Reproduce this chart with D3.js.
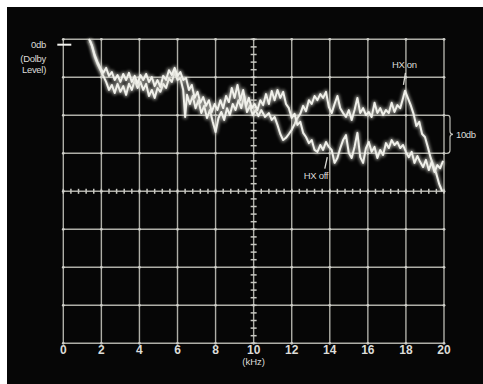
<!DOCTYPE html>
<html><head><meta charset="utf-8">
<script src="https://cdn.jsdelivr.net/npm/d3@7"></script>
<style>
html,body{margin:0;padding:0;background:#fff;}
svg{display:block;}
text{font-family:"Liberation Sans",Arial,sans-serif;}
</style></head><body>
<script>
// ---- data (kHz, dB re Dolby level) ----
const xTicks = [0,2,4,6,8,10,12,14,16,18,20];
const xTickLabels = ["0","2","4","6","8","10","12","14","16","18","20"];
const xUnitLabel = "(kHz)";
const refLabel = ["0db","(Dolby","Level)"];
const bracketLabel = "10db";
const seriesNames = ["HX on","HX off"];

const hxOnFreq = [1.4,1.5,1.65,1.8,1.95,2.1,2.25,2.4,2.55,2.7,2.85,3.0,3.15,3.3,3.45,3.6,3.75,3.9,4.05,4.2,4.35,4.5,4.65,4.8,4.95,5.1,5.25,5.4,5.55,5.7,5.85,6.0,6.15,6.3,6.4,6.5,6.65,6.8,6.95,7.1,7.25,7.4,7.55,7.7,7.85,8.0,8.15,8.3,8.45,8.6,8.75,8.9,9.05,9.2,9.35,9.5,9.65,9.8,9.95,10.1,10.25,10.4,10.6,10.8,10.95,11.1,11.25,11.4,11.55,11.7,11.85,12.0,12.15,12.3,12.45,12.6,12.75,12.9,13.05,13.2,13.35,13.5,13.65,13.8,13.95,14.1,14.25,14.4,14.55,14.7,14.85,15.0,15.15,15.3,15.45,15.6,15.75,15.9,16.05,16.2,16.35,16.5,16.65,16.8,16.95,17.1,17.25,17.4,17.55,17.7,17.85,17.95,18.1,18.25,18.4,18.55,18.7,18.85,19.0,19.15,19.3,19.45,19.6,19.75,19.9];
const hxOnDb = [1.2,-0.3,-3.2,-5.1,-6.7,-8.2,-9.8,-11.9,-10.6,-12.7,-10.3,-12.4,-10.9,-13.2,-10.3,-11.9,-9.3,-11.4,-9.8,-11.9,-10.3,-13.5,-11.9,-14.0,-11.4,-12.4,-10.3,-11.4,-8.8,-9.8,-7.2,-9.3,-8.8,-11.9,-19.0,-13.2,-15.6,-13.5,-16.7,-14.6,-18.0,-16.1,-19.3,-17.2,-20.3,-23.0,-19.3,-17.7,-19.8,-16.7,-18.5,-15.6,-17.2,-14.6,-16.7,-13.5,-17.7,-16.1,-18.5,-17.2,-18.8,-17.2,-19.0,-18.0,-19.8,-19.0,-21.1,-23.5,-25.1,-24.5,-23.5,-22.4,-20.9,-19.3,-18.2,-16.1,-17.5,-14.6,-15.6,-13.5,-14.6,-13.0,-14.0,-12.4,-16.4,-18.0,-15.6,-13.5,-16.7,-18.0,-19.0,-17.2,-19.8,-17.2,-14.0,-18.0,-16.7,-18.5,-17.7,-19.0,-15.3,-18.0,-16.7,-18.5,-17.2,-18.0,-15.3,-17.7,-15.9,-16.7,-14.0,-12.1,-14.0,-15.9,-18.2,-21.4,-20.3,-23.5,-24.3,-26.9,-29.8,-31.9,-34.0,-36.7,-38.5];

const hxOffFreq = [1.35,1.5,1.65,1.8,1.95,2.1,2.25,2.4,2.55,2.7,2.85,3.0,3.15,3.3,3.45,3.6,3.75,3.9,4.05,4.2,4.35,4.5,4.65,4.8,4.95,5.1,5.25,5.4,5.55,5.7,5.85,6.0,6.15,6.3,6.45,6.6,6.75,6.9,7.05,7.2,7.35,7.5,7.65,7.8,7.95,8.1,8.25,8.4,8.55,8.7,8.85,9.0,9.15,9.3,9.45,9.6,9.75,9.9,10.05,10.2,10.35,10.5,10.65,10.8,10.95,11.1,11.25,11.4,11.55,11.7,11.85,12.0,12.15,12.3,12.45,12.6,12.75,12.9,13.05,13.2,13.35,13.5,13.65,13.8,13.95,14.1,14.25,14.4,14.55,14.7,14.85,15.0,15.15,15.3,15.45,15.6,15.75,15.9,16.05,16.2,16.35,16.5,16.65,16.8,16.95,17.1,17.25,17.4,17.55,17.7,17.85,18.0,18.15,18.3,18.45,18.6,18.75,18.9,19.05,19.2,19.35,19.5,19.65,19.8,19.95];
const hxOffDb = [1.5,-0.1,-2.7,-4.6,-6.1,-7.4,-6.1,-8.2,-7.2,-9.3,-8.0,-9.8,-7.7,-9.3,-7.4,-9.8,-8.2,-10.3,-8.0,-9.3,-7.7,-9.8,-8.5,-10.9,-9.3,-11.1,-8.2,-9.3,-6.7,-8.0,-6.1,-8.2,-7.2,-9.3,-8.8,-11.9,-10.6,-14.0,-12.4,-15.3,-13.8,-16.1,-14.6,-17.7,-15.6,-17.2,-14.6,-16.7,-13.5,-15.1,-11.4,-14.0,-10.6,-14.6,-11.9,-16.1,-14.0,-16.7,-15.6,-17.2,-14.6,-15.9,-13.0,-15.6,-12.2,-14.6,-11.9,-14.0,-12.4,-15.6,-16.7,-19.3,-18.2,-21.1,-20.3,-23.2,-24.3,-25.9,-25.1,-27.7,-28.2,-26.4,-27.7,-25.6,-26.9,-27.7,-31.1,-29.8,-27.2,-25.1,-23.8,-28.5,-29.8,-26.9,-23.2,-29.6,-31.1,-27.2,-25.6,-28.2,-26.9,-29.8,-27.7,-29.0,-25.9,-27.2,-25.1,-26.4,-25.6,-27.2,-26.4,-28.2,-29.6,-28.2,-31.1,-29.3,-30.9,-32.2,-30.3,-33.0,-30.9,-33.5,-31.7,-32.5,-30.6];

// ---- layout ----
const W = 483, H = 384;
const dbTop = 1.42, dbSpan = 80;   // graticule: 8 divisions of 10 dB
const textColor = "#dcdcd8";
const svg = d3.select("body").append("svg").attr("width", W).attr("height", H);

svg.append("rect").attr("x",7).attr("y",7).attr("width",W-7).attr("height",H-7).attr("fill","#060606");

const x = d3.scaleLinear().domain([0,20]).range([63.3,444]);
const y = d3.scaleLinear().domain([dbTop, dbTop-dbSpan]).range([39.3,343.3]);

const defs = svg.append("defs");
const f = defs.append("filter").attr("id","glow").attr("x","-10%").attr("y","-10%").attr("width","120%").attr("height","120%");
f.append("feGaussianBlur").attr("stdDeviation",1.8);
const f2 = defs.append("filter").attr("id","soft");
f2.append("feGaussianBlur").attr("stdDeviation",0.35);

const gridColor = "#aeaea7";
const hGrid = d3.range(0,9).map(i => dbTop - 10*i);
const vGrid = xTicks;
const gGrid = svg.append("g").attr("filter","url(#soft)");
gGrid.selectAll("line.h").data(hGrid).join("line")
  .attr("x1", x(0)).attr("x2", x(20)).attr("y1", d=>y(d)).attr("y2", d=>y(d))
  .attr("stroke", gridColor).attr("stroke-width",1.4);
gGrid.selectAll("line.v").data(vGrid).join("line")
  .attr("y1", y(dbTop)).attr("y2", y(dbTop-dbSpan)).attr("x1", d=>x(d)).attr("x2", d=>x(d))
  .attr("stroke", gridColor).attr("stroke-width",1.4);

// minor ticks on centre lines
const centreDb = dbTop - 40;
const minorX = d3.range(0,20.001,0.4);
gGrid.selectAll("line.mx").data(minorX).join("line")
  .attr("x1", d=>x(d)).attr("x2", d=>x(d)).attr("y1", y(centreDb)-2.5).attr("y2", y(centreDb)+2.5)
  .attr("stroke","#c8c8c2").attr("stroke-width",1.5);
const minorY = d3.range(0,81,2).map(i => dbTop - i);
gGrid.selectAll("line.my").data(minorY).join("line")
  .attr("y1", d=>y(d)).attr("y2", d=>y(d)).attr("x1", x(10)-3).attr("x2", x(10)+3)
  .attr("stroke","#c8c8c2").attr("stroke-width",1.5);
// intersection dots
const inter = [];
hGrid.forEach(h => vGrid.forEach(v => inter.push([v,h])));
gGrid.selectAll("circle").data(inter).join("circle")
  .attr("cx", d=>x(d[0])).attr("cy", d=>y(d[1])).attr("r",1.4).attr("fill","#cfcfc9");

// 0 dB reference marker
svg.append("line").attr("x1", x(0)-6).attr("x2", x(0)+8).attr("y1", y(0)).attr("y2", y(0))
  .attr("stroke","#f4f4f0").attr("stroke-width",2);

// traces
const line = d3.line().x(d=>x(d[0])).y(d=>y(d[1]));
const onData = hxOnFreq.map((v,i)=>[v,hxOnDb[i]]);
const offData = hxOffFreq.map((v,i)=>[v,hxOffDb[i]]);
[onData, offData].forEach(data => {
  svg.append("path").datum(data).attr("d", line).attr("fill","none")
    .attr("stroke","#d4d4cc").attr("stroke-width",4.5).attr("opacity",0.6).attr("filter","url(#glow)")
    .attr("stroke-linejoin","round");
  svg.append("path").datum(data).attr("d", line).attr("fill","none")
    .attr("stroke","#f0f0ea").attr("stroke-width",2).attr("stroke-linejoin","round");
});

// x tick labels
svg.selectAll("text.xt").data(xTicks).join("text")
  .attr("x", d=>x(d)).attr("y", 354).attr("text-anchor","middle").attr("fill", textColor)
  .attr("font-size",12).attr("font-weight","bold").text((d,i)=>xTickLabels[i]);
svg.append("text").attr("x", x(10)).attr("y", 365).attr("text-anchor","middle").attr("fill", textColor)
  .attr("font-size",9.5).text(xUnitLabel);

// reference label
svg.selectAll("text.ref").data(refLabel).join("text")
  .attr("x", 46).attr("y", (d,i)=> y(0)+3.5 + i*11.5 + (i>0?2:0)).attr("text-anchor","end").attr("fill", textColor)
  .attr("font-size",9.5).attr("letter-spacing",-0.3).text(d=>d);

// series labels with pointers
svg.append("text").attr("x", x(18)-14).attr("y", y(-6.2)).attr("text-anchor","start").attr("fill", textColor)
  .attr("font-size",9.5).attr("letter-spacing",-0.3).text(seriesNames[0]);
svg.append("line").attr("x1", x(18)-0.5).attr("x2", x(17.95)-1.5).attr("y1", y(-7.4)).attr("y2", y(-10.6))
  .attr("stroke","#dcdcd6").attr("stroke-width",1.3);
svg.append("text").attr("x", x(14)-26).attr("y", y(-35.3)).attr("text-anchor","start").attr("fill", textColor)
  .attr("font-size",9.5).attr("letter-spacing",-0.3).text(seriesNames[1]);
svg.append("line").attr("x1", x(14)-5).attr("x2", x(14)-2.5).attr("y1", y(-32.6)).attr("y2", y(-29.6))
  .attr("stroke","#dcdcd6").attr("stroke-width",1.3);

// 10 dB bracket
const bTop = y(dbTop-20), bBot = y(dbTop-30), bx = x(20);
const bMid = (bTop+bBot)/2;
svg.append("path")
  .attr("d", `M${bx},${bTop} L${bx+4},${bTop} Q${bx+6},${bTop} ${bx+6},${bTop+3} L${bx+6},${bMid-3} Q${bx+6},${bMid} ${bx+9},${bMid} Q${bx+6},${bMid} ${bx+6},${bMid+3} L${bx+6},${bBot-3} Q${bx+6},${bBot} ${bx+3},${bBot} L${bx},${bBot}`)
  .attr("fill","none").attr("stroke","#bdbdb6").attr("stroke-width",1.2);
svg.append("text").attr("x", bx+12).attr("y", bMid+4).attr("fill", textColor).attr("font-size",9.5).attr("letter-spacing",-0.4).text(bracketLabel);
</script>
</body></html>
